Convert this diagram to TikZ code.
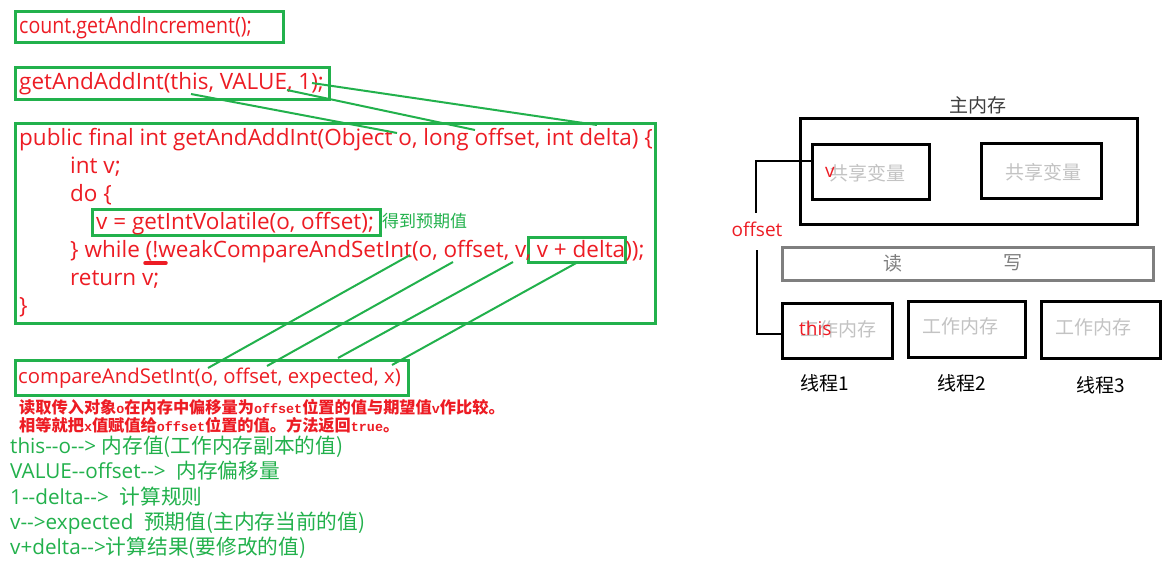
\documentclass[tikz,border=0pt]{standalone}
\usepackage{fontspec}
\setmainfont{Open Sans}
\newfontfamily\cjkf{Noto Sans CJK SC}
\newfontfamily\monof{Liberation Mono}
\definecolor{pgreen}{HTML}{22B14C}
\definecolor{pred}{HTML}{ED1C24}
\definecolor{lgray}{HTML}{C3C3C3}
\definecolor{mgray}{HTML}{7F7F7F}
\definecolor{dgray}{HTML}{3F3F3F}
\newcommand\mycode{\fontsize{22.5}{22.5}\selectfont}
\newcommand\mycas{\fontsize{20.3}{20.3}\selectfont}
\newcommand\mysmall{\fontsize{19}{19}\selectfont}
\newcommand\mygreen{\fontsize{20.7}{20.7}\selectfont}
\newcommand\myright{\cjkf\fontsize{19}{19}\selectfont}
\newcommand\mo[1]{{\monof\bfseries\fontsize{13.4}{13}\selectfont #1}}
\tikzset{
  gbox/.style={draw=pgreen, line width=3pt, inner sep=0pt},
  kbox/.style={draw=black, line width=3pt, inner sep=0pt},
  gline/.style={draw=pgreen, line width=2pt},
  kline/.style={draw=black, line width=2pt},
  code/.style={anchor=base west, inner sep=0pt, text=pred, font=\mycode},
  gtext/.style={anchor=base west, inner sep=0pt, text=pgreen, font=\mygreen},
  rtext/.style={anchor=base west, inner sep=0pt, text=pred, font=\cjkf\bfseries\fontsize{16.2}{16}\selectfont},
  lab/.style={inner sep=0pt, font=\myright},
}
\begin{document}
\begin{tikzpicture}[x=1pt,y=-1pt]
\useasboundingbox (0,0) rectangle (1176,566);
\fill[white] (0,0) rectangle (1176,566);

% ---------- left: green boxes ----------
\node[gbox, minimum width=268pt, minimum height=31pt] (countbox) at (149,26.5) {};
\node[gbox, minimum width=314pt, minimum height=32pt] (gaabox) at (172,83) {};
\node[gbox, minimum width=640pt, minimum height=200pt] (codebox) at (335,223) {};
\node[gbox, minimum width=288pt, minimum height=26pt] (vbox) at (236,222) {};
\node[gbox, minimum width=97pt, minimum height=25pt] (vdbox) at (576.5,249.5) {};
\node[gbox, minimum width=393pt, minimum height=35pt] (casbox) at (211.5,377.5) {};

% ---------- code text ----------
\node[code] (t0) at (19,33) {\scalebox{0.87}[1]{count.getAndIncrement();}};
\node[code] (t1) at (19,89) {getAndAddInt(this, VALUE, 1);};
\node[code] (c1) at (19,145) {public final int getAndAddInt(Object o, long offset, int delta) \{};
\node[code] (c2) at (70,173) {int v;};
\node[code] (c3) at (70,201) {do \{};
\node[code] (c4) at (96,229) {v = getIntVolatile(o, offset);};
\node[code] (c5) at (70,257) {\} while (!weakCompareAndSetInt(o, offset, v, v + delta));};
\node[code] (c6) at (70,285) {return v;};
\node[code] (c7) at (19,313) {\}};
\node[anchor=base west, inner sep=0pt, text=pgreen, font=\cjkf\fontsize{17}{17}\selectfont] (expect) at (382,227) {得到预期值};
\node[code, font=\mycas] (cas) at (18,383) {compareAndSetInt(o, offset, expected, x)};

% red underline mark
\draw[pred, line width=3.5pt, line cap=round] (145,263) -- (166,263);

% ---------- red explanation ----------
\node[rtext] (r1) at (19,413) {读取传入对象\mo{o}在内存中偏移量为\mo{offset}位置的值与期望值\mo{v}作比较。};
\node[rtext] (r2) at (19,431) {相等就把\mo{x}值赋值给\mo{offset}位置的值。方法返回\mo{true}。};

% ---------- green explanation ----------
\node[gtext] (g1) at (10,453) {this-{}-o-{}-> {\cjkf 内存值(工作内存副本的值)}};
\node[gtext] (g2) at (10,478) {VALUE-{}-offset-{}->\ \ {\cjkf 内存偏移量}};
\node[gtext] (g3) at (10,504) {1-{}-delta-{}->\ \ {\cjkf 计算规则}};
\node[gtext] (g4) at (10,529) {v-{}->expected\ \ {\cjkf 预期值(主内存当前的值)}};
\node[gtext] (g5) at (10,554) {v+delta-{}->{\cjkf 计算结果(要修改的值)}};

% ---------- connector anchor points ----------
\coordinate (aThis) at (191,94);
\coordinate (aValue) at (287,90);
\coordinate (aOne) at (312,83);
\coordinate (pO) at (397,133);
\coordinate (pOffset) at (475,130);
\coordinate (pDelta) at (597,125);
\coordinate (wO) at (410,255);
\coordinate (wOffset) at (453,262);
\coordinate (wV) at (513,262);
\coordinate (wVd) at (578,262);
\coordinate (xO) at (208,368);
\coordinate (xOffset) at (267,366);
\coordinate (xExp) at (338,358);
\coordinate (xX) at (392,365);

\draw[gline] (aThis) -- (pO);
\draw[gline] (aValue) -- (pOffset);
\draw[gline] (aOne) -- (pDelta);
\draw[gline] (wO) -- (xO);
\draw[gline] (wOffset) -- (xOffset);
\draw[gline] (wV) -- (xExp);
\draw[gline] (wVd) -- (xX);

% ---------- right diagram ----------
\node[lab, text=dgray] (mainlab) at (978,105) {主内存};
\node[kbox, minimum width=337pt, minimum height=106pt] (mainbox) at (968.5,171) {};
\node[kbox, minimum width=117pt, minimum height=55pt] (sv1) at (870.5,171.5) {};
\node[kbox, minimum width=120pt, minimum height=55pt] (sv2) at (1041,170.5) {};
\node[lab, text=lgray] (sv1t) at (867,173) {共享变量};
\node[lab, text=lgray] (sv2t) at (1043,172) {共享变量};
\node[lab, text=pred, font=\mysmall, anchor=base west] (vlab) at (825,177) {v};

\node[draw=mgray, line width=3pt, minimum width=371pt, minimum height=33pt, inner sep=0pt] (rw) at (967.5,263.5) {};
\node[lab, text=mgray] (rd) at (893,263) {读};
\node[lab, text=mgray] (wr) at (1013,263) {写};

\node[kbox, minimum width=110pt, minimum height=55pt] (tb1) at (837,330.5) {};
\node[kbox, minimum width=117pt, minimum height=56pt] (tb2) at (966.5,329) {};
\node[kbox, minimum width=119pt, minimum height=57pt] (tb3) at (1100.5,329.5) {};
\node[lab, text=lgray] (w1) at (838,329) {工作内存};
\node[lab, text=lgray] (w2) at (960,326) {工作内存};
\node[lab, text=lgray] (w3) at (1093,327) {工作内存};
\node[lab, text=pred, font=\mysmall, anchor=base west] (thislab) at (799,335) {this};

\node[lab, text=black] (th1) at (825,383) {线程1};
\node[lab, text=black] (th2) at (962,383) {线程2};
\node[lab, text=black] (th3) at (1101,385) {线程3};

\node[lab, text=pred, font=\mysmall] (offlab) at (757,229) {offset};
\coordinate (offTop) at (755.5,213);
\coordinate (offBot) at (756.5,250);
\draw[kline] ([yshift=10.5pt]sv1.west) -| (offTop);
\draw[kline] (offBot) |- ([yshift=-3.5pt]tb1.west);
\end{tikzpicture}
\end{document}
